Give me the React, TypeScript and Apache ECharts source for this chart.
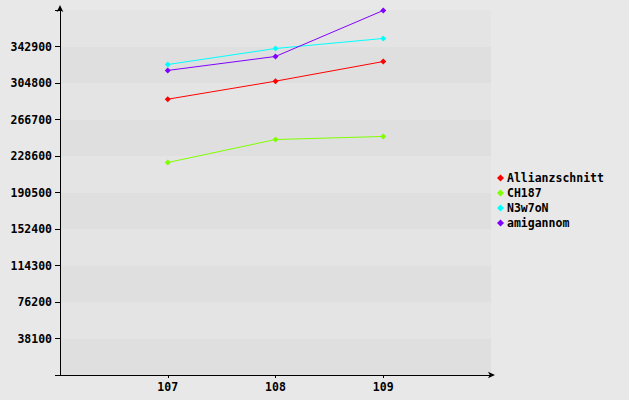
import React, { useEffect, useRef } from "react";
import * as echarts from "echarts";

const xTicks = [107, 108, 109];
const seriesNames = ["Allianzschnitt", "CH187", "N3w7oN", "amigannom"];
const allianzschnitt = [287900, 306700, 327200];
const ch187 = [221800, 245800, 249000];
const n3w7on = [324100, 340800, 351300];
const amigannom = [317900, 332500, 380500];
const colors = ["#ff0000", "#80ff00", "#00ffff", "#8000ff"];
const yInterval = 38100;
const yMax = 381000;

const FONT = "'DejaVu Sans Mono', monospace";

export default function App() {
  const ref = useRef<HTMLDivElement>(null);
  useEffect(() => {
    if (!ref.current) return;
    const chart = echarts.init(ref.current, undefined, { renderer: "svg" });
    const all = [allianzschnitt, ch187, n3w7on, amigannom];
    chart.setOption({
      animation: false,
      backgroundColor: "#e8e8e8",
      textStyle: { fontFamily: FONT },
      grid: { left: 60, top: 10, right: 138, bottom: 25, containLabel: false },
      legend: {
        orient: "vertical",
        left: 492,
        top: 167,
        icon: "diamond",
        itemWidth: 7,
        itemHeight: 7,
        itemGap: 3,
        textStyle: { fontFamily: FONT, fontSize: 11.5, fontWeight: "bold", color: "#000", padding: [0, 0, 0, -2] },
        data: seriesNames,
      },
      xAxis: {
        type: "value",
        min: 106,
        max: 110,
        interval: 1,
        splitLine: { show: false },
        axisLine: {
          show: true,
          lineStyle: { color: "#000", width: 1 },
          symbol: ["none", "arrow"],
          symbolSize: [5, 7],
          symbolOffset: [0, 4],
        },
        axisTick: { show: true, length: 3, customValues: xTicks, lineStyle: { color: "#000" } },
        axisLabel: {
          customValues: xTicks,
          fontFamily: FONT,
          fontSize: 11.5,
          fontWeight: "bold",
          color: "#000",
          margin: 6,
        },
      },
      yAxis: {
        type: "value",
        min: 0,
        max: yMax,
        interval: yInterval,
        splitLine: { show: false },
        splitArea: { show: true, areaStyle: { color: ["#dfdfdf", "#e4e4e4"] } },
        axisLine: {
          show: true,
          lineStyle: { color: "#000", width: 1 },
          symbol: ["none", "arrow"],
          symbolSize: [5, 7],
          symbolOffset: [0, 5],
        },
        axisTick: { show: true, length: 5, lineStyle: { color: "#000" } },
        axisLabel: {
          fontFamily: FONT,
          fontSize: 11.5,
          fontWeight: "bold",
          color: "#000",
          margin: 8,
          formatter: (v: number) => (v === 0 || v === yMax ? "" : String(v)),
        },
      },
      series: seriesNames.map((name, i) => ({
        name,
        type: "line",
        data: xTicks.map((x, j) => [x, all[i][j]]),
        symbol: "diamond",
        symbolSize: 6,
        showSymbol: true,
        itemStyle: { color: colors[i] },
        lineStyle: { color: colors[i], width: 1 },
      })),
    });
    return () => chart.dispose();
  }, []);
  return (
    <div
      ref={ref}
      style={{ position: "absolute", left: 0, top: 0, width: 629, height: 400 }}
    />
  );
}
